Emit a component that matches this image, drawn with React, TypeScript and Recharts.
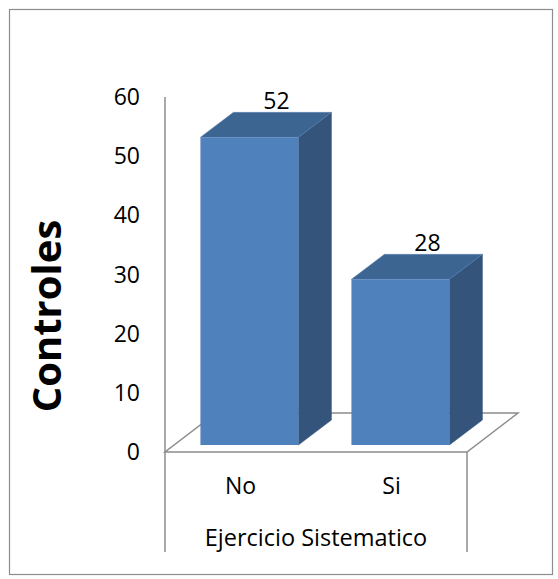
import React from "react";
import { BarChart, Bar, XAxis, YAxis, LabelList, Customized } from "recharts";

const categories = ["No", "Si"];
const controles = [52, 28];
const yTicks = [0, 10, 20, 30, 40, 50, 60];
const xTitle = "Ejercicio Sistematico";
const yTitle = "Controles";

const data = categories.map((name, i) => ({ name, value: controles[i] }));

// layout
const W = 558;
const H = 579;
const PLOT = { left: 165, right: 467, top: 97, bottom: 452 };
const Y_AXIS_W = 60;
const X_AXIS_H = 100;

// 3d look: bars sit a bit back on the floor
const SHIFT_X = 9;
const SHIFT_Y = -7;
const DEPTH_X = 33;
const DEPTH_Y = 25;
const FLOOR_DX = 51;
const FLOOR_DY = 39;

const FRONT = "#4f81bd";
const TOP = "#3d6592";
const SIDE = "#34547c";
const AXIS = "#8c8c8c";
const FONT = "'Open Sans', sans-serif";

function Bar3D(props: any) {
  const { x, y, width, height } = props;
  const x0 = x + SHIFT_X;
  const y0 = y + SHIFT_Y;
  const x1 = x0 + width;
  const y1 = y0 + height;
  return (
    <g>
      <polygon
        points={`${x1},${y0} ${x1 + DEPTH_X},${y0 - DEPTH_Y} ${x1 + DEPTH_X},${y1 - DEPTH_Y} ${x1},${y1}`}
        fill={SIDE}
        stroke={SIDE}
        strokeWidth={0.5}
      />
      <polygon
        points={`${x0},${y0} ${x0 + DEPTH_X},${y0 - DEPTH_Y} ${x1 + DEPTH_X},${y0 - DEPTH_Y} ${x1},${y0}`}
        fill={TOP}
        stroke="#5a82b4"
        strokeWidth={0.5}
      />
      <rect x={x0} y={y0} width={width} height={height} fill={FRONT} />
    </g>
  );
}

function TopLabel(props: any) {
  const { x, y, width, value } = props;
  return (
    <text
      x={x + SHIFT_X + width / 2 + 27}
      y={y + SHIFT_Y - DEPTH_Y - 3}
      textAnchor="middle"
      fontSize={23}
      fontFamily={FONT}
      fill="#000"
    >
      {value}
    </text>
  );
}

// floor, category box lines, frame and the rotated title
function Decor() {
  const { left, right, bottom } = PLOT;
  const floor = `${left},${bottom} ${right},${bottom} ${right + FLOOR_DX},${bottom - FLOOR_DY} ${left + FLOOR_DX},${bottom - FLOOR_DY}`;
  const cx = 45;
  const cy = 316;
  return (
    <g>
      <rect x={9.5} y={9.5} width={543} height={565} fill="none" stroke={AXIS} strokeWidth={1.2} />
      <polygon points={floor} fill="none" stroke={AXIS} strokeWidth={1.5} />
      <line x1={left} y1={bottom} x2={left} y2={bottom + X_AXIS_H} stroke={AXIS} strokeWidth={1.5} />
      <line x1={right} y1={bottom} x2={right} y2={bottom + X_AXIS_H} stroke={AXIS} strokeWidth={1.5} />
      <text
        x={cx}
        y={cy}
        transform={`rotate(-90 ${cx} ${cy})`}
        textAnchor="middle"
        dominantBaseline="central"
        fontSize={40}
        fontWeight="bold"
        fontFamily={FONT}
        fill="#000"
      >
        {yTitle}
      </text>
    </g>
  );
}

export default function App() {
  return (
    <div style={{ position: "absolute", left: 0, top: 0, width: W, height: H, background: "#fff" }}>
      <BarChart
        width={W}
        height={H}
        data={data}
        margin={{
          top: PLOT.top,
          left: PLOT.left - Y_AXIS_W,
          right: W - PLOT.right,
          bottom: H - PLOT.bottom - X_AXIS_H,
        }}
        barCategoryGap="17.5%"
      >
        <Customized component={Decor} />
        <XAxis
          dataKey="name"
          height={X_AXIS_H}
          axisLine={false}
          tickLine={false}
          tickSize={0}
          tickMargin={26}
          tick={{ fontSize: 23, fill: "#000", fontFamily: FONT }}
          label={{
            value: xTitle,
            position: "insideBottom",
            offset: 6,
            fontSize: 23.5,
            fill: "#000",
            fontFamily: FONT,
          }}
        />
        <YAxis
          width={Y_AXIS_W}
          domain={[0, 60]}
          ticks={yTicks}
          interval={0}
          tickLine={false}
          tickSize={0}
          tickMargin={25}
          axisLine={{ stroke: AXIS, strokeWidth: 1.5 }}
          tick={{ fontSize: 23, fill: "#000", fontFamily: FONT }}
        />
        <Bar dataKey="value" shape={Bar3D} isAnimationActive={false}>
          <LabelList dataKey="value" content={TopLabel} />
        </Bar>
      </BarChart>
    </div>
  );
}
